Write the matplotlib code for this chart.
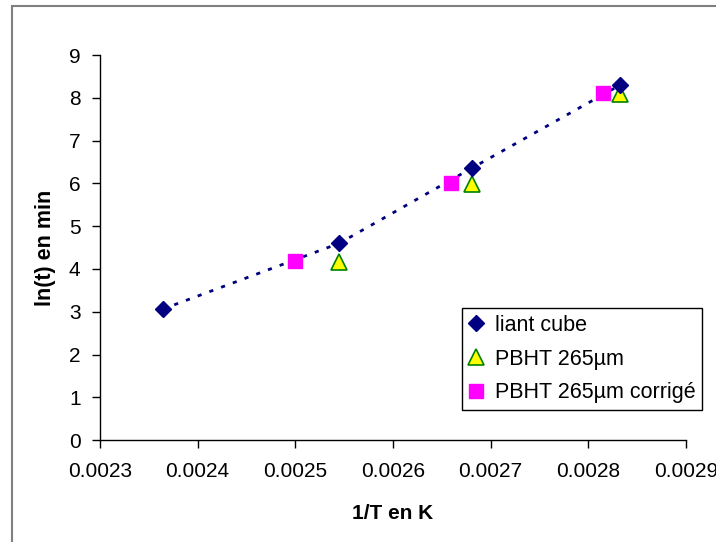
import matplotlib
matplotlib.use('Agg')
import matplotlib.pyplot as plt
from matplotlib.patches import Rectangle

plt.rcParams['font.family'] = ['Liberation Sans', 'DejaVu Sans']

# Data
inv_t_liant = [0.002364, 0.002545, 0.002681, 0.002832]
ln_t_liant = [3.06, 4.60, 6.36, 8.29]

inv_t_pbht = [0.002545, 0.002681, 0.002832]
ln_t_pbht = [4.16, 5.98, 8.08]

inv_t_corr = [0.0025, 0.002659, 0.002815]
ln_t_corr = [4.18, 6.00, 8.11]

xticks = [0.0023, 0.0024, 0.0025, 0.0026, 0.0027, 0.0028, 0.0029]
yticks = list(range(0, 10))

fig = plt.figure(figsize=(7.16, 5.42), dpi=100)
ax = fig.add_axes([0.1397, 0.188, 0.8183, 0.7105])

# outer chart frame
fig.patches.append(Rectangle((12 / 716, -0.05), 1.1, 1 - 6 / 542 + 0.05,
                             transform=fig.transFigure, fill=False,
                             edgecolor='#7f7f7f', linewidth=1.5))

ax.plot(inv_t_liant, ln_t_liant, color='#000080', linestyle=(0, (1.5, 3)),
        linewidth=2, zorder=2)
ax.plot(inv_t_liant, ln_t_liant, linestyle='none', marker='D', markersize=8,
        color='#000080', label='liant cube', zorder=4)
ax.plot(inv_t_pbht, ln_t_pbht, linestyle='none', marker='^', markersize=11,
        markerfacecolor='#ffff00', markeredgecolor='#008000',
        markeredgewidth=1.2, label='PBHT 265µm', zorder=3)
ax.plot(inv_t_corr, ln_t_corr, linestyle='none', marker='s', markersize=10,
        color='#ff00ff', label='PBHT 265µm corrigé', zorder=3)

ax.set_xlim(0.0023, 0.0029)
ax.set_ylim(0, 9)
ax.set_xticks(xticks)
ax.set_xticklabels([f'{v:.4f}' for v in xticks])
ax.set_yticks(yticks)

for side in ['top', 'right']:
    ax.spines[side].set_visible(False)
for side in ['left', 'bottom']:
    ax.spines[side].set_linewidth(1)
ax.tick_params(direction='out', length=6, width=1, labelsize=15, pad=8)
ax.tick_params(axis='x', pad=10)

ax.set_xlabel('1/T en K', fontsize=15, fontweight='bold', labelpad=16)
ax.set_ylabel('ln(t) en min', fontsize=15.5, fontweight='bold', labelpad=9)

leg = ax.legend(loc='lower left', bbox_to_anchor=(0.618, 0.078),
                fontsize=15.5, frameon=True, fancybox=False, framealpha=1,
                edgecolor='black', handlelength=0.7, handletextpad=0.5,
                borderpad=0.31, labelspacing=0.59, borderaxespad=0)
leg.get_frame().set_linewidth(1)
leg.set_clip_on(False)

fig.savefig('out.png', dpi=100)
